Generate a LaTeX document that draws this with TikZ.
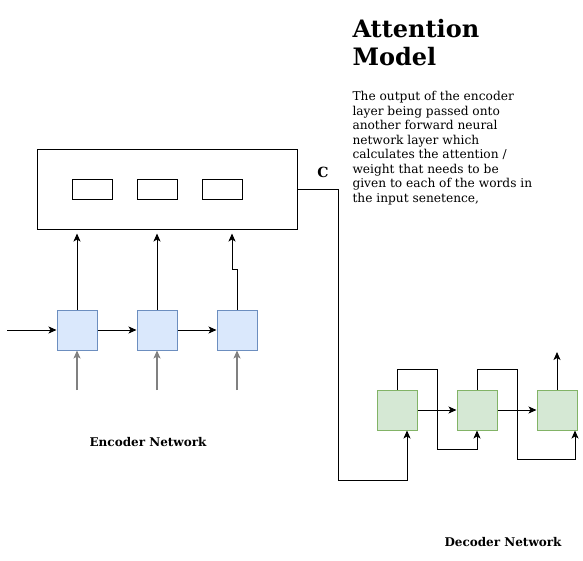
\documentclass[tikz,border=0pt]{standalone}
\usepackage{fontspec}
\setmainfont{DejaVu Serif}
\usetikzlibrary{arrows.meta}
\definecolor{encfill}{HTML}{DAE8FC}
\definecolor{encline}{HTML}{6C8EBF}
\definecolor{decfill}{HTML}{D5E8D4}
\definecolor{decline}{HTML}{82B366}
\tikzset{
  enccell/.style={draw=encline,fill=encfill,minimum size=40pt,inner sep=0pt},
  deccell/.style={draw=decline,fill=decfill,minimum size=40pt,inner sep=0pt},
  slot/.style={draw,minimum width=40pt,minimum height=20pt,inner sep=0pt},
  feed/.style={->,draw=gray,line width=2pt},
  caption/.style={font=\bfseries\fontsize{12}{15}\selectfont,inner sep=0pt}
}
\begin{document}
\begin{tikzpicture}[x=1pt,y=-1pt,line width=1pt,>={Stealth[length=8pt,width=7pt,inset=2pt]}]
            \useasboundingbox (0,0) rectangle (583,561);
            % attention layer
            \node[draw,minimum width=260pt,minimum height=80pt,inner sep=0pt] (att) at (167,190) {};
            \node[slot] (s1) at (92,190) {};
            \node[slot] (s2) at (157,190) {};
            \node[slot] (s3) at (222,190) {};
            \node[font=\bfseries\fontsize{14}{16}\selectfont,inner sep=0pt] (clabel) at (323,172) {C};
            % encoder
            \node[enccell] (e1) at (77,330) {};
            \node[enccell] (e2) at (157,330) {};
            \node[enccell] (e3) at (237,330) {};
            \coordinate (in) at (7,330);
            \coordinate (x1) at (77,390);
            \coordinate (x2) at (157,390);
            \coordinate (x3) at (237,390);
            \draw[->] (in) -- (e1);
            \draw[->] (e1) -- (e2);
            \draw[->] (e2) -- (e3);
            \draw[feed] (x1) -- (e1);
            \draw[feed] (x2) -- (e2);
            \draw[feed] (x3) -- (e3);
            \draw[->,shorten >=3pt] (e1.north) -- (e1.north |- att.south);
            \draw[->,shorten >=3pt] (e2.north) -- (e2.north |- att.south);
            \draw[->,shorten >=3pt] (e3.north) -- ++(0,-40) -- ++(-5,0) -- ([xshift=-5pt]e3.north |- att.south);
            % decoder
            \node[deccell] (d1) at (397,410) {};
            \node[deccell] (d2) at (477,410) {};
            \node[deccell] (d3) at (557,410) {};
            \coordinate (bend) at (338,480);
            \coordinate (out) at (557,352);
            \draw[->] (att.east) -| (bend) -| ([xshift=10pt]d1.south);
            \draw[->] (d1) -- (d2);
            \draw[->] (d2) -- (d3);
            \draw[->] (d1.north) -- ++(0,-20) -- ++(40,0) -- ++(0,80) -| (d2.south);
            \draw[->] (d2.north) -- ++(0,-20) -- ++(40,0) -- ++(0,90) -| ([xshift=18pt]d3.south);
            \draw[->] (d3.north) -- (out);
            % texts
            \node[caption,anchor=base] (enc) at (148,446) {Encoder Network};
            \node[caption,anchor=base] (dec) at (503,546) {Decoder Network};
            \node[anchor=north west,align=left,inner sep=0pt,font=\bfseries\fontsize{24}{27.5}\selectfont] (title) at (352,19) {Attention\\Model};
            \node[anchor=north west,align=left,inner sep=0pt,font=\fontsize{12.2}{14.5}\selectfont] (body) at (352,91) {The output of the encoder\\layer being passed onto\\another forward neural\\network layer which\\calculates the attention /\\weight that needs to be\\given to each of the words in\\the input senetence,};
\end{tikzpicture}
\end{document}
